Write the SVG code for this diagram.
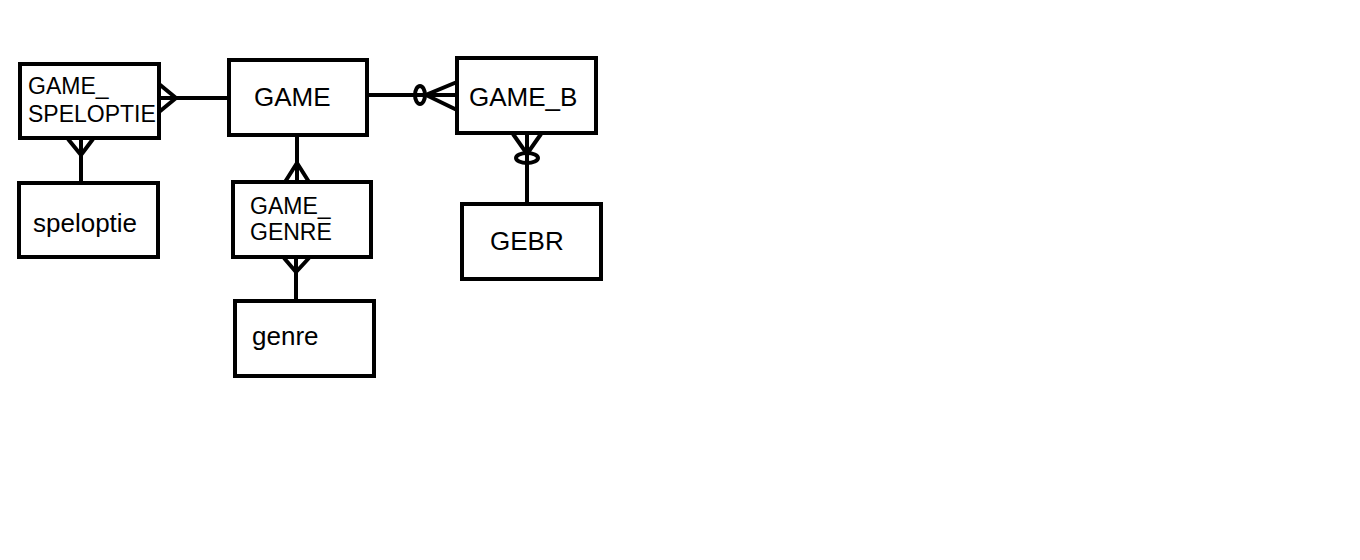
<svg xmlns="http://www.w3.org/2000/svg" width="1360" height="560" viewBox="0 0 1360 560">
<style>
.box{fill:#fff;stroke:#000;stroke-width:4}
.ln{fill:none;stroke:#000;stroke-width:4}
.t{font-family:"Liberation Sans",Arial,sans-serif;fill:#000;font-size:26px}
.s{font-size:23px}
</style>
<rect width="1360" height="560" fill="#fff"/>
<g id="connectors">
  <path class="ln" d="M159 98H229"/>
  <path class="ln" d="M159 84L176 98L159 112"/>
  <path class="ln" d="M81 138V183"/>
  <path class="ln" d="M68 139L81 155L93 139"/>
  <path class="ln" d="M297 135V182"/>
  <path class="ln" d="M285 182L297 163L309 182"/>
  <path class="ln" d="M296 257V301"/>
  <path class="ln" d="M284 258L296 272L309 258"/>
  <path class="ln" d="M367 95H457"/>
  <path class="ln" d="M457 82L426 95L457 110"/>
  <ellipse class="ln" cx="420" cy="95" rx="5" ry="9" fill="#fff"/>
  <path class="ln" d="M527 133V204"/>
  <path class="ln" d="M513 134L527 154L541 134"/>
  <ellipse class="ln" cx="527" cy="158" rx="11" ry="5" fill="#fff"/>
</g>
<g id="game_speloptie">
  <rect class="box" x="20" y="64" width="139" height="74"/>
  <text class="t s" x="28" y="94">GAME_</text>
  <text class="t s" x="28" y="122">SPELOPTIE</text>
</g>
<g id="speloptie">
  <rect class="box" x="19" y="183" width="139" height="74"/>
  <text class="t" x="33" y="232">speloptie</text>
</g>
<g id="game">
  <rect class="box" x="229" y="60" width="138" height="75"/>
  <text class="t" x="254" y="106">GAME</text>
</g>
<g id="game_genre">
  <rect class="box" x="233" y="182" width="138" height="75"/>
  <text class="t s" x="250" y="214">GAME_</text>
  <text class="t s" x="250" y="240">GENRE</text>
</g>
<g id="genre">
  <rect class="box" x="235" y="301" width="139" height="75"/>
  <text class="t" x="252" y="345">genre</text>
</g>
<g id="game_b">
  <rect class="box" x="457" y="58" width="139" height="75"/>
  <text class="t" x="469" y="106">GAME_B</text>
</g>
<g id="gebr">
  <rect class="box" x="462" y="204" width="139" height="75"/>
  <text class="t" x="490" y="250">GEBR</text>
</g>
</svg>
